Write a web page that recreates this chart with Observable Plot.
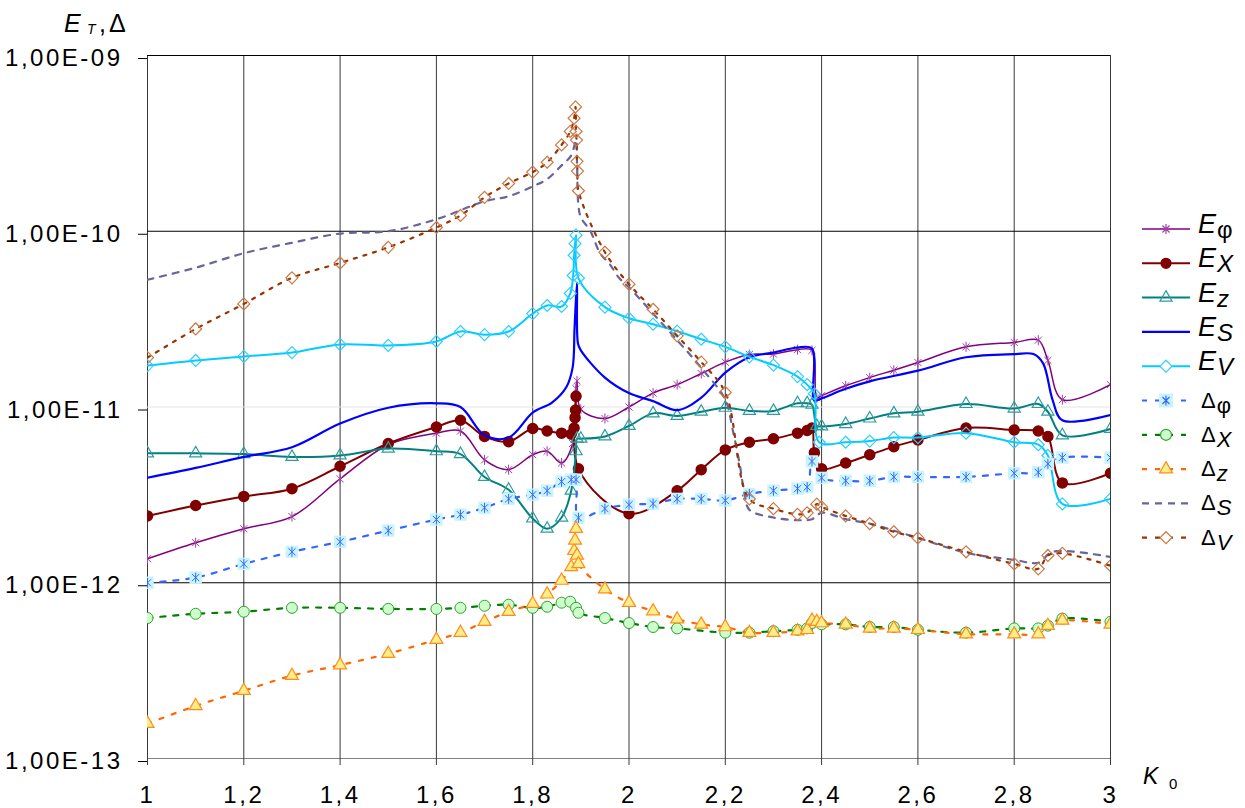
<!DOCTYPE html>
<html><head><meta charset="utf-8">
<script src="https://cdn.jsdelivr.net/npm/d3@7"></script>
<script src="https://cdn.jsdelivr.net/npm/@observablehq/plot@0.6"></script>
<style>
body{margin:0;background:#fff;}
#wrap{position:relative;width:1245px;height:808px;background:#fff;}
#wrap svg{position:absolute;left:0;top:0;}
</style></head><body><div id="wrap"></div>
<script>
// ---- tick labels ----
const xTicks = [1, 1.2, 1.4, 1.6, 1.8, 2, 2.2, 2.4, 2.6, 2.8, 3];
const xTickLabels = ["1", "1,2", "1,4", "1,6", "1,8", "2", "2,2", "2,4", "2,6", "2,8", "3"];
const yTicks = [1e-13, 1e-12, 1e-11, 1e-10, 1e-9];
const yTickLabels = ["1,00E-13", "1,00E-12", "1,00E-11", "1,00E-10", "1,00E-09"];

// ---- E_phi ----
const kEphi = [1,1.1,1.2,1.3,1.4,1.5,1.6,1.65,1.7,1.75,1.8,1.83,1.86,1.883,1.89,1.892,1.9,1.95,2.0,2.05,2.1,2.15,2.2,2.25,2.3,2.35,2.38,2.39,2.4,2.45,2.5,2.55,2.6,2.7,2.8,2.85,2.87,2.9,3.0];
const vEphi = [1.37e-12,1.69e-12,2.03e-12,2.38e-12,3.9e-12,6.1e-12,7.1e-12,7.3e-12,5.0e-12,4.4e-12,5.35e-12,5.6e-12,4.8e-12,6.2e-12,1.27e-11,1.41e-11,9.7e-12,8.6e-12,1.0e-11,1.2e-11,1.34e-11,1.55e-11,1.8e-11,1.99e-11,2.0e-11,2.12e-11,2.1e-11,1.13e-11,1.16e-11,1.32e-11,1.47e-11,1.62e-11,1.79e-11,2.2e-11,2.33e-11,2.4e-11,1.84e-11,1.1e-11,1.34e-11];
// ---- E_X ----
const kEx = [1,1.1,1.2,1.3,1.4,1.5,1.6,1.65,1.7,1.75,1.8,1.83,1.86,1.88,1.886,1.888,1.889,1.89,1.895,2.0,2.1,2.15,2.2,2.25,2.3,2.35,2.37,2.38,2.385,2.4,2.45,2.5,2.55,2.6,2.7,2.8,2.85,2.87,2.9,3.0];
const vEx = [2.4e-12,2.75e-12,3.1e-12,3.43e-12,4.6e-12,6.2e-12,7.7e-12,8.4e-12,6.8e-12,6.35e-12,7.55e-12,7.3e-12,7.1e-12,7.0e-12,7.6e-12,8.7e-12,9.6e-12,1.15e-11,4.45e-12,2.47e-12,3.34e-12,4.4e-12,5.7e-12,6.3e-12,6.6e-12,7.1e-12,7.35e-12,7.6e-12,5.5e-12,4.45e-12,4.8e-12,5.35e-12,5.95e-12,6.5e-12,7.6e-12,7.4e-12,7.3e-12,6.8e-12,3.7e-12,4.2e-12];
// ---- E_Z ----
const kEz = [1,1.1,1.2,1.3,1.4,1.5,1.6,1.65,1.7,1.75,1.8,1.83,1.86,1.88,1.89,1.892,1.9,1.95,2.0,2.05,2.1,2.15,2.2,2.25,2.3,2.35,2.37,2.38,2.39,2.4,2.45,2.5,2.55,2.6,2.7,2.8,2.85,2.87,2.9,3.0];
const vEz = [5.45e-12,5.45e-12,5.4e-12,5.2e-12,5.3e-12,5.8e-12,5.6e-12,5.4e-12,4.0e-12,3.38e-12,2.32e-12,2.03e-12,2.35e-12,3.34e-12,5.6e-12,6.6e-12,6.6e-12,6.8e-12,7.8e-12,9.2e-12,8.9e-12,9.4e-12,9.9e-12,9.5e-12,9.5e-12,1.05e-11,1.05e-11,1.03e-11,7.8e-12,7.75e-12,8.0e-12,8.6e-12,9.2e-12,9.4e-12,1.04e-11,9.8e-12,1.04e-11,9.4e-12,6.9e-12,7.5e-12];
// ---- E_S ----
const kEs = [1,1.1,1.2,1.3,1.4,1.5,1.6,1.65,1.7,1.75,1.8,1.84,1.87,1.883,1.887,1.892,1.894,1.9,1.95,2.0,2.05,2.1,2.15,2.2,2.25,2.3,2.35,2.38,2.385,2.4,2.45,2.5,2.6,2.7,2.8,2.84,2.86,2.88,2.9,3.0];
const vEs = [3.96e-12,4.5e-12,5.2e-12,5.9e-12,8.05e-12,9.9e-12,1.05e-11,1.0e-11,6.9e-12,6.7e-12,9.3e-12,1.06e-11,1.3e-11,1.68e-11,2.83e-11,5.1e-11,2.3e-11,2.1e-11,1.47e-11,1.2e-11,1.08e-11,9.6e-12,1.13e-11,1.57e-11,1.92e-11,2.04e-11,2.18e-11,2.15e-11,1.09e-11,1.12e-11,1.27e-11,1.4e-11,1.61e-11,1.92e-11,2.0e-11,2.0e-11,1.77e-11,1.09e-11,8.4e-12,9.0e-12];
// ---- E_V ----
const kEv = [1,1.1,1.2,1.3,1.4,1.5,1.6,1.65,1.7,1.75,1.8,1.83,1.86,1.878,1.884,1.886,1.888,1.89,1.895,1.95,2.0,2.05,2.1,2.15,2.2,2.25,2.3,2.35,2.37,2.385,2.395,2.45,2.5,2.55,2.6,2.7,2.8,2.85,2.87,2.9,3.0];
const vEv = [1.72e-11,1.84e-11,1.94e-11,2.04e-11,2.27e-11,2.24e-11,2.36e-11,2.69e-11,2.58e-11,2.69e-11,3.4e-11,3.78e-11,3.73e-11,4.43e-11,5.6e-11,7.3e-11,8.5e-11,9.5e-11,5.4e-11,3.7e-11,3.2e-11,2.96e-11,2.7e-11,2.43e-11,2.2e-11,1.93e-11,1.73e-11,1.49e-11,1.34e-11,1.19e-11,6.3e-12,6.3e-12,6.4e-12,6.7e-12,6.7e-12,7.1e-12,6.3e-12,6.1e-12,5.3e-12,2.81e-12,3.0e-12];
// ---- Delta_phi ----
const kDphi = [1,1.1,1.2,1.3,1.4,1.5,1.6,1.65,1.7,1.75,1.8,1.83,1.86,1.88,1.89,1.895,1.95,2.0,2.05,2.1,2.15,2.2,2.25,2.3,2.35,2.37,2.38,2.4,2.45,2.5,2.55,2.6,2.7,2.8,2.85,2.87,2.9,3.0];
const vDphi = [1.0e-12,1.07e-12,1.28e-12,1.5e-12,1.71e-12,1.98e-12,2.29e-12,2.44e-12,2.67e-12,3.0e-12,3.17e-12,3.34e-12,3.76e-12,3.86e-12,3.86e-12,2.34e-12,2.64e-12,2.78e-12,2.82e-12,3.0e-12,3.0e-12,2.94e-12,3.2e-12,3.34e-12,3.43e-12,3.5e-12,4.9e-12,3.95e-12,3.8e-12,3.8e-12,4.0e-12,4.0e-12,4.0e-12,4.2e-12,4.25e-12,4.75e-12,5.15e-12,5.15e-12];
// ---- Delta_X ----
const kDx = [1,1.1,1.2,1.3,1.4,1.5,1.6,1.65,1.7,1.75,1.8,1.83,1.86,1.878,1.89,1.895,1.95,2.0,2.05,2.1,2.2,2.25,2.3,2.35,2.37,2.38,2.4,2.45,2.5,2.55,2.6,2.7,2.8,2.85,2.87,2.9,3.0];
const vDx = [6.3e-13,6.66e-13,6.84e-13,7.2e-13,7.2e-13,7.1e-13,7.1e-13,7.2e-13,7.4e-13,7.5e-13,7.2e-13,7.3e-13,7.7e-13,7.8e-13,7.2e-13,6.75e-13,6.3e-13,5.9e-13,5.6e-13,5.5e-13,5.2e-13,5.2e-13,5.3e-13,5.4e-13,5.5e-13,5.9e-13,5.8e-13,5.8e-13,5.6e-13,5.6e-13,5.4e-13,5.2e-13,5.5e-13,5.5e-13,5.7e-13,6.25e-13,6.0e-13];
// ---- Delta_Z ----
const kDz = [1,1.1,1.2,1.3,1.4,1.5,1.6,1.65,1.7,1.75,1.8,1.83,1.86,1.88,1.886,1.888,1.89,1.892,1.895,1.95,2.0,2.05,2.1,2.15,2.2,2.25,2.3,2.35,2.37,2.38,2.39,2.4,2.45,2.5,2.55,2.6,2.7,2.8,2.85,2.87,2.9,3.0];
const vDz = [1.58e-13,1.99e-13,2.43e-13,2.96e-13,3.4e-13,3.95e-13,4.74e-13,5.2e-13,6.0e-13,6.85e-13,7.6e-13,8.6e-13,1.03e-12,1.23e-12,1.52e-12,1.74e-12,2.03e-12,1.43e-12,1.28e-12,9.2e-13,7.7e-13,6.9e-13,6.2e-13,5.8e-13,5.6e-13,5.2e-13,5.2e-13,5.3e-13,5.4e-13,6.1e-13,6.0e-13,5.9e-13,5.8e-13,5.5e-13,5.5e-13,5.4e-13,5.1e-13,5.1e-13,5.1e-13,5.7e-13,6.1e-13,5.8e-13];
// ---- Delta_S ----
const kDs = [1,1.1,1.2,1.3,1.4,1.5,1.6,1.7,1.75,1.8,1.83,1.86,1.88,1.89,1.892,1.895,1.9,1.92,1.94,1.96,1.98,2.0,2.05,2.1,2.15,2.2,2.215,2.23,2.24,2.25,2.3,2.35,2.38,2.4,2.45,2.5,2.55,2.6,2.7,2.8,2.85,2.88,3.0];
const vDs = [5.3e-11,6.2e-11,7.5e-11,8.6e-11,9.7e-11,1.0e-10,1.17e-10,1.48e-10,1.58e-10,1.8e-10,1.98e-10,2.37e-10,2.7e-10,3.3e-10,2.5e-10,1.4e-10,1.2e-10,1.0e-10,7.5e-11,6.5e-11,5.4e-11,4.8e-11,3.4e-11,2.4e-11,1.67e-11,1.1e-11,7.5e-12,4.7e-12,3.2e-12,2.6e-12,2.35e-12,2.27e-12,2.3e-12,2.5e-12,2.3e-12,2.17e-12,1.98e-12,1.8e-12,1.48e-12,1.35e-12,1.3e-12,1.5e-12,1.4e-12];
// ---- Delta_V ----
const kDv = [1,1.1,1.2,1.3,1.4,1.5,1.6,1.65,1.7,1.75,1.8,1.83,1.86,1.878,1.886,1.889,1.89,1.891,1.892,1.893,1.895,1.95,2.0,2.05,2.1,2.15,2.2,2.25,2.3,2.35,2.37,2.39,2.4,2.45,2.5,2.55,2.6,2.7,2.8,2.85,2.87,2.9,3.0];
const vDv = [1.91e-11,2.78e-11,3.86e-11,5.43e-11,6.6e-11,8.1e-11,1.05e-10,1.23e-10,1.56e-10,1.87e-10,2.17e-10,2.47e-10,3.1e-10,3.7e-10,4.4e-10,5.1e-10,3.7e-10,3.3e-10,2.5e-10,2.2e-10,1.7e-10,7.6e-11,5.0e-11,3.6e-11,2.54e-11,1.8e-11,1.21e-11,3.0e-12,2.64e-12,2.45e-12,2.5e-12,2.8e-12,2.7e-12,2.4e-12,2.17e-12,1.95e-12,1.8e-12,1.5e-12,1.28e-12,1.2e-12,1.43e-12,1.47e-12,1.25e-12];

const S = (ks, vs) => ks.map((k, i) => ({k, v: vs[i]}));
const dEphi = S(kEphi, vEphi), dEx = S(kEx, vEx), dEz = S(kEz, vEz), dEs = S(kEs, vEs), dEv = S(kEv, vEv);
const dDphi = S(kDphi, vDphi), dDx = S(kDx, vDx), dDz = S(kDz, vDz), dDs = S(kDs, vDs), dDv = S(kDv, vDv);

const asteriskSym = {
  draw(ctx, size) {
    const r = Math.sqrt(size / Math.PI), d = r * Math.SQRT1_2;
    ctx.moveTo(0, -r); ctx.lineTo(0, r);
    ctx.moveTo(-d, -d); ctx.lineTo(d, d);
    ctx.moveTo(-d, d); ctx.lineTo(d, -d);
  }
};

const C = "catmull-rom";
const L = (data, o) => Plot.line(data, {x: "k", y: "v", curve: C, clip: true, ...o});
const D = (data, o) => Plot.dot(data, {x: "k", y: "v", clip: true, ...o});

const chart = Plot.plot({
  width: 1245, height: 808,
  marginLeft: 147, marginRight: 135, marginTop: 55, marginBottom: 50,
  style: {fontFamily: "'Liberation Sans', Arial, sans-serif", background: "#fff", letterSpacing: "2.5px", color: "#000"},
  x: {domain: [1, 3]},
  y: {type: "log", domain: [1e-13, 1e-9]},
  marks: [
    Plot.ruleX(xTicks, {stroke: "#3a3a3a", strokeWidth: 1}),
    Plot.ruleY([1e-11], {stroke: "#e4e4e4", strokeWidth: 1}),
    Plot.ruleY([1e-13], {stroke: "#808080", strokeWidth: 1}),
    Plot.ruleY([1e-12, 1e-10, 1e-9], {stroke: "#000", strokeWidth: 1}),
    Plot.axisY(yTicks, {tickFormat: d => yTickLabels[yTicks.indexOf(d)], tickSize: 9, tickPadding: 16, fontSize: 24, dy: 3, label: null}),
    Plot.axisX(xTicks, {tickFormat: d => xTickLabels[xTicks.indexOf(d)], tickSize: 7, tickPadding: 20, fontSize: 24, stroke: "#3a3a3a", label: null}),
    // E series
    L(dEphi, {stroke: "#800080", strokeWidth: 1.5}),
    D(dEphi, {symbol: asteriskSym, r: 5, fill: "none", stroke: "#a040a8", strokeWidth: 1}),
    L(dEx, {stroke: "#800000", strokeWidth: 2}),
    D(dEx, {r: 5, fill: "#800000", stroke: "#800000"}),
    L(dEz, {stroke: "#008080", strokeWidth: 2}),
    D(dEz, {symbol: "triangle", r: 4.5, fill: "none", stroke: "#2f9c9c", strokeWidth: 1.2}),
    L(dEs, {stroke: "#0000ff", strokeWidth: 2.2}),
    L(dEv, {stroke: "#00ccff", strokeWidth: 2}),
    D(dEv, {symbol: "diamond2", r: 5.4, fill: "none", stroke: "#33ccff", strokeWidth: 1.2}),
    // Delta series
    L(dDphi, {stroke: "#3366ff", strokeWidth: 2.2, strokeDasharray: "5,8"}),
    D(dDphi, {symbol: "square", r: 7, fill: "#c8f4ff", stroke: "none"}),
    D(dDphi, {symbol: asteriskSym, r: 5, fill: "none", stroke: "#3366ff", strokeWidth: 1}),
    L(dDx, {stroke: "#008000", strokeWidth: 2.2, strokeDasharray: "5,8"}),
    D(dDx, {r: 5.5, fill: "#ccffcc", stroke: "#33a033", strokeWidth: 1}),
    L(dDz, {stroke: "#ff6600", strokeWidth: 2.2, strokeDasharray: "4,9"}),
    D(dDz, {symbol: "triangle", r: 4.8, fill: "#ffee88", stroke: "#ff8c1a", strokeWidth: 1.2}),
    L(dDs, {stroke: "#666699", strokeWidth: 2.2, strokeDasharray: "6,7"}),
    L(dDv, {stroke: "#993300", strokeWidth: 2.2, strokeDasharray: "3,7"}),
    D(dDv, {symbol: "diamond2", r: 5.4, fill: "none", stroke: "#cc7744", strokeWidth: 1.2})
  ]
});
const wrap = document.getElementById("wrap");
wrap.appendChild(chart);

// ---- overlay: axis titles and legend ----
const ov = d3.select(wrap).append("svg")
  .attr("width", 1245).attr("height", 808)
  .style("pointer-events", "none")
  .style("font-family", "'Liberation Sans', Arial, sans-serif");

// y-axis title  E_T,Δ
ov.append("text").attr("x", 64).attr("y", 32).attr("font-size", 25).attr("font-style", "italic").text("E");
ov.append("text").attr("x", 87).attr("y", 34).attr("font-size", 14).attr("font-style", "italic").text("T");
ov.append("text").attr("x", 99).attr("y", 32).attr("font-size", 25).attr("letter-spacing", "3px").text(",Δ");
// x-axis title K_0
ov.append("text").attr("x", 1143).attr("y", 784).attr("font-size", 23).attr("font-style", "italic").text("K");
ov.append("text").attr("x", 1169).attr("y", 789).attr("font-size", 15).text("0");

const legendItems = [
  {main: "E", sub: "φ", it: false, color: "#800080", sw: 1.5, dash: null, sym: asteriskSym, size: 5, fill: "none", mstroke: "#a040a8"},
  {main: "E", sub: "X", it: true, color: "#800000", sw: 2, dash: null, sym: d3.symbolCircle, size: 5, fill: "#800000", mstroke: "#800000"},
  {main: "E", sub: "z", it: true, color: "#008080", sw: 2, dash: null, sym: d3.symbolTriangle, size: 4.5, fill: "none", mstroke: "#2f9c9c"},
  {main: "E", sub: "S", it: true, color: "#0000ff", sw: 2.2, dash: null, sym: null},
  {main: "E", sub: "V", it: true, color: "#00ccff", sw: 2, dash: null, sym: d3.symbolDiamond2, size: 5.4, fill: "#fff", mstroke: "#33ccff"},
  {main: "Δ", sub: "φ", it: false, color: "#3366ff", sw: 2.2, dash: "5,8", sym: asteriskSym, size: 5, fill: "none", mstroke: "#3366ff", bg: "#c8f4ff"},
  {main: "Δ", sub: "X", it: true, color: "#008000", sw: 2.2, dash: "5,8", sym: d3.symbolCircle, size: 5.5, fill: "#ccffcc", mstroke: "#33a033"},
  {main: "Δ", sub: "z", it: true, color: "#ff6600", sw: 2.2, dash: "5,8", sym: d3.symbolTriangle, size: 4.8, fill: "#ffee88", mstroke: "#ff8c1a"},
  {main: "Δ", sub: "S", it: true, color: "#666699", sw: 2.2, dash: "7,6", sym: null},
  {main: "Δ", sub: "V", it: true, color: "#993300", sw: 2.2, dash: "5,8", sym: d3.symbolDiamond2, size: 5.4, fill: "#fff", mstroke: "#cc7744"}
];
legendItems.forEach((it, i) => {
  const y = 229 + i * 34.3;
  const g = ov.append("g");
  g.append("line").attr("x1", 1142).attr("x2", 1190).attr("y1", y).attr("y2", y)
    .attr("stroke", it.color).attr("stroke-width", it.sw).attr("stroke-dasharray", it.dash);
  if (it.bg) g.append("rect").attr("x", 1159).attr("y", y - 7).attr("width", 14).attr("height", 14).attr("fill", it.bg);
  if (it.sym) g.append("path").attr("transform", `translate(1166,${y})`)
    .attr("d", d3.symbol(it.sym, Math.PI * it.size * it.size)())
    .attr("fill", it.fill).attr("stroke", it.mstroke).attr("stroke-width", 1.2);
  const isE = it.main === "E";
  const t = g.append("text").attr("x", isE ? 1198 : 1201).attr("y", y + (isE ? 4 : 7)).attr("font-size", isE ? 27 : 22);
  t.append("tspan").attr("font-style", isE ? "italic" : "normal").text(it.main);
  t.append("tspan").attr("font-size", isE ? 24 : 22).attr("font-style", it.it ? "italic" : "normal")
    .attr("dx", 1).attr("dy", 5).text(it.sub);
});
</script>
</body></html>
